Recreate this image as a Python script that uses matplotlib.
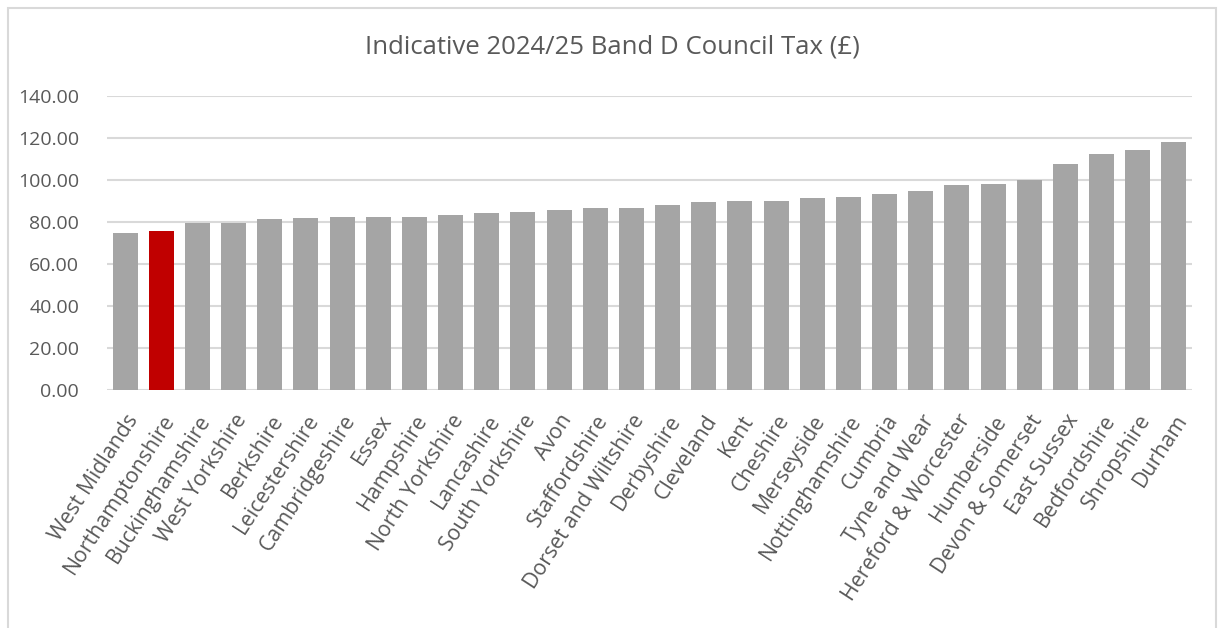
import matplotlib.pyplot as plt
from matplotlib.patches import Rectangle

areas = ['West Midlands', 'Northamptonshire', 'Buckinghamshire', 'West Yorkshire',
         'Berkshire', 'Leicestershire', 'Cambridgeshire', 'Essex', 'Hampshire',
         'North Yorkshire', 'Lancashire', 'South Yorkshire', 'Avon', 'Staffordshire',
         'Dorset and Wiltshire', 'Derbyshire', 'Cleveland', 'Kent', 'Cheshire',
         'Merseyside', 'Nottinghamshire', 'Cumbria', 'Tyne and Wear',
         'Hereford & Worcester', 'Humberside', 'Devon & Somerset', 'East Sussex',
         'Bedfordshire', 'Shropshire', 'Durham']
band_d = [75.0, 75.5, 79.3, 79.3, 81.2, 81.7, 82.2, 82.6, 82.6, 83.1, 84.5, 85.0,
          85.5, 86.9, 86.9, 88.3, 89.3, 89.8, 90.2, 91.2, 92.1, 93.1, 95.0, 97.4,
          97.9, 99.8, 107.4, 112.6, 114.5, 118.3]
highlight = 'Northamptonshire'
yticks = [0, 20, 40, 60, 80, 100, 120, 140]

plt.rcParams['font.family'] = ['Open Sans', 'DejaVu Sans']
txt = '#595959'

fig = plt.figure(figsize=(12.24, 6.28), dpi=100)
ax = fig.add_axes([107 / 1224, 1 - 390 / 628, (1192 - 107) / 1224, (390 - 96) / 628])

colors = ['#c00000' if a == highlight else '#a5a5a5' for a in areas]
x = range(len(areas))
ax.bar(x, band_d, width=0.69, color=colors, zorder=3)

ax.set_xlim(-0.5, len(areas) - 0.5)
ax.set_ylim(0, 140)
ax.set_yticks(yticks)
ax.set_yticklabels(['%.2f' % v for v in yticks], fontsize=14, color=txt)
ax.set_xticks(list(x))
ax.set_xticklabels(areas, rotation=57, ha='right', rotation_mode='anchor',
                   fontsize=15.3, color=txt)
ax.tick_params(axis='y', length=0, pad=20)
ax.tick_params(axis='x', length=0, pad=15)
ax.grid(axis='y', color='#d9d9d9', linewidth=1.5, zorder=0)
for s in ax.spines.values():
    s.set_visible(False)

fig.text(0.5, 1 - 47 / 628, 'Indicative 2024/25 Band D Council Tax (£)',
         ha='center', va='center', fontsize=18.5, color=txt)

fig.patches.append(Rectangle((8 / 1224, -0.05), 1208 / 1224, 1.05 - 8 / 628,
                             transform=fig.transFigure, fill=False,
                             edgecolor='#d9d9d9', linewidth=1.5))

fig.savefig('out.png', dpi=100)
